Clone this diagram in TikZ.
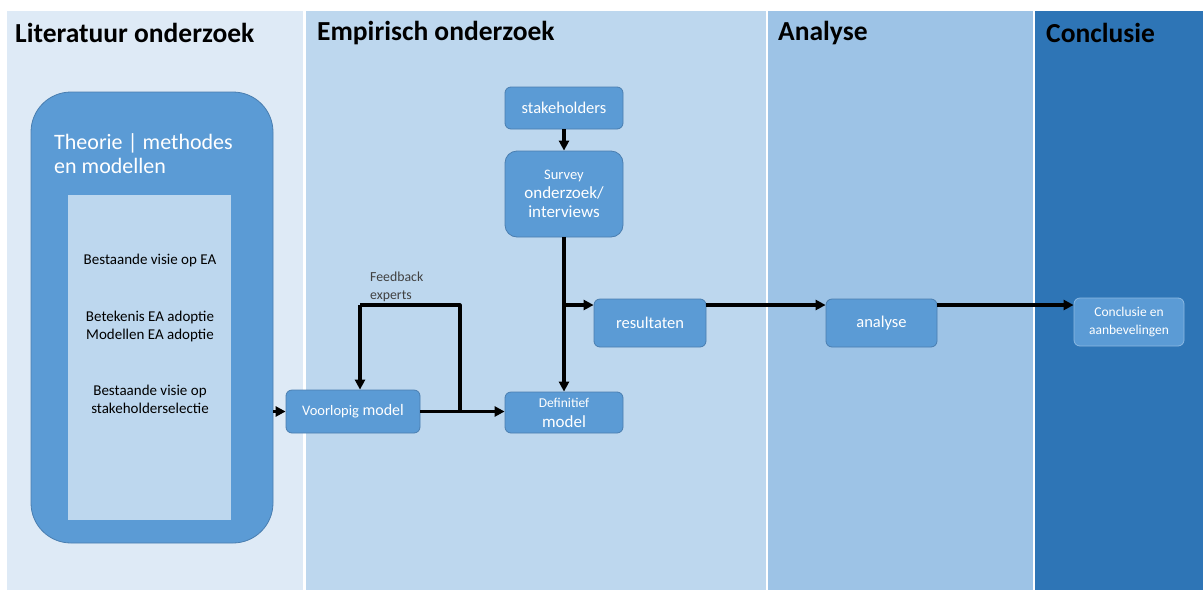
\documentclass[tikz,border=0pt]{standalone}
\usepackage{fontspec}
\setmainfont{Carlito}
\usetikzlibrary{arrows.meta}
\definecolor{bandA}{HTML}{DEEAF6}
\definecolor{bandB}{HTML}{BDD7EE}
\definecolor{bandC}{HTML}{9DC3E6}
\definecolor{bandD}{HTML}{2E75B6}
\definecolor{boxfill}{HTML}{5B9BD5}
\definecolor{boxline}{HTML}{4A7EB0}
\definecolor{fbtext}{HTML}{404040}
\newcommand{\fs}[2]{\fontsize{#1}{#2}\selectfont}
\tikzset{
  header/.style={anchor=west,inner sep=0pt,font=\fs{27.5}{30}\bfseries,text=black},
  blockbox/.style={draw=boxline,line width=0.8pt,fill=boxfill,rounded corners=6pt,text=white,align=center,inner sep=0pt},
  conn/.style={line width=3.1pt,line join=round,-{Triangle[length=10pt,width=10pt]}},
  plain/.style={line width=3.1pt,line join=round},
  innertext/.style={align=center,inner sep=0pt,font=\fs{15}{18},text=black}
}
\begin{document}
\begin{tikzpicture}[x=1pt,y=-1pt]
\useasboundingbox (0,0) rectangle (1203,590);
\fill[white] (0,0) rectangle (1203,590);
% bands
\fill[bandA] (7,11) rectangle (303,590);
\fill[bandB] (306,11) rectangle (766,590);
\fill[bandC] (768,11) rectangle (1033,590);
\fill[bandD] (1035,11) rectangle (1203,590);
% headers
\node[header] (h1) at (15,33) {Literatuur onderzoek};
\node[header] (h2) at (317,33) {Empirisch onderzoek};
\node[header] (h3) at (778,33) {Analyse};
\node[header] (h4) at (1046,33) {Conclusie};
% big theory box
\node[blockbox,rounded corners=40pt,minimum width=242pt,minimum height=451pt] (theo) at (152,317.5) {};
\node[anchor=west,inner sep=0pt,align=left,text=white,font=\fs{22}{24.5}] (theotitle) at (54,153.5) {Theorie | methodes\\en modellen};
\node[fill=bandB,draw=none,minimum width=163pt,minimum height=325pt,inner sep=0pt] (inner) at (149.5,357.5) {};
\node[innertext] (t1) at (150,260) {Bestaande visie op EA};
\node[innertext] (t2) at (150,326) {Betekenis EA adoptie\\Modellen EA adoptie};
\node[innertext] (t3) at (150,399) {Bestaande visie op\\stakeholderselectie};
% empirical boxes
\node[blockbox,minimum width=134pt,minimum height=43pt,font=\fs{16}{18}] (vm) at (353,411.5) {{\fs{14.5}{16}Voorlopig} model};
\node[blockbox,minimum width=118pt,minimum height=41pt,font=\fs{17}{20}] (def) at (564,412.5) {{\fs{13.5}{15}Definitief}\\model};
\node[blockbox,minimum width=118pt,minimum height=42pt,font=\fs{16.5}{18}] (stk) at (564,108) {stakeholders};
\node[blockbox,rounded corners=12pt,minimum width=118pt,minimum height=86pt,font=\fs{17}{19}] (srv) at (564,194) {{\fs{14.5}{16}Survey}\\onderzoek/\\interviews};
\node[blockbox,minimum width=112pt,minimum height=48pt,font=\fs{16.5}{18}] (res) at (650,323) {resultaten};
\node[blockbox,minimum width=111pt,minimum height=48pt,font=\fs{16.5}{18}] (ana) at (881.5,323) {analyse};
\node[blockbox,draw=boxfill!70!white,minimum width=110pt,minimum height=48pt,font=\fs{13.5}{18}] (con) at (1129,322) {Conclusie en\\aanbevelingen};
% feedback label
\node[anchor=west,inner sep=0pt,align=left,text=fbtext,font=\fs{13.8}{18}] (fbl) at (370,287) {Feedback\\experts};
% coordinates
\coordinate (fbA) at (460,411.5);
\coordinate (fbC) at (360,305);
\coordinate (br) at (564,305);
% connectors
\draw[conn] (theo.east |- vm.west) -- (vm.west);
\draw[conn] (vm.east) -- (def.west |- vm.east);
\draw[plain] (fbA) |- (fbC);
\draw[conn] (fbC) -- (vm.north -| fbC);
\draw[conn] (stk.south) -- (srv.north);
\draw[conn] (srv.south) -- (def.north);
\draw[conn] (br) -- (res.west |- br);
\draw[conn] (res.east |- br) -- (ana.west |- br);
\draw[conn] (ana.east |- br) -- (con.west |- br);
\end{tikzpicture}
\end{document}
